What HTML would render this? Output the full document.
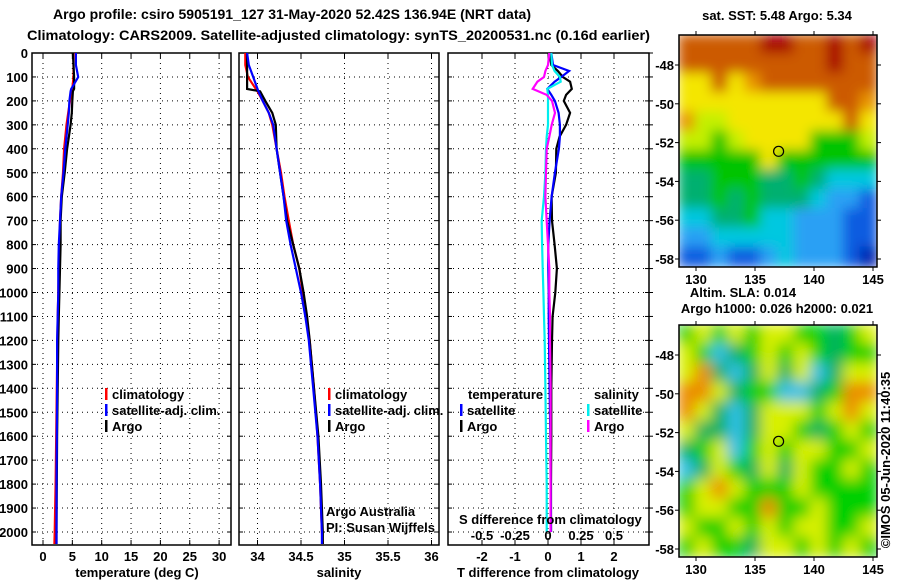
<!DOCTYPE html>
<html><head><meta charset="utf-8">
<style>
html,body{margin:0;padding:0;background:#fff;}
svg{display:block;font-family:"Liberation Sans",sans-serif;}
.b{font-weight:bold;font-size:13px;}
</style></head>
<body>
<svg id="fig" width="900" height="580" viewBox="0 0 900 580" xmlns="http://www.w3.org/2000/svg">
<defs><filter id="blur1" x="0" y="0" width="1" height="1"><feGaussianBlur stdDeviation="6"/></filter>
<filter id="blur2" x="0" y="0" width="1" height="1"><feGaussianBlur stdDeviation="7"/></filter>
<clipPath id="cm1"><rect x="679" y="35" width="198" height="232"/></clipPath>
<clipPath id="cm2"><rect x="679" y="325" width="198" height="232"/></clipPath></defs>
<text x="53" y="19" class="b" style="font-size:14px" textLength="478" lengthAdjust="spacingAndGlyphs">Argo profile: csiro 5905191_127 31-May-2020 52.42S 136.94E (NRT data)</text>
<text x="27" y="40" class="b" style="font-size:14px" textLength="623" lengthAdjust="spacingAndGlyphs">Climatology: CARS2009. Satellite-adjusted climatology: synTS_20200531.nc (0.16d earlier)</text>
<g id="plots"></g>
</svg>
<script>
// ---- data ----
const depths = [0,50,100,150,160,200,250,300,400,500,600,700,800,900,1000,1100,1200,1400,1600,1800,2000,2050];
const climT = [5.2,5.2,5.2,5.0,4.9,4.6,4.3,4.0,3.6,3.4,3.1,2.9,2.8,2.7,2.6,2.5,2.45,2.35,2.25,2.15,2.0,1.95];
const satT  = [5.6,5.6,6.0,4.8,4.7,4.5,4.4,4.2,3.8,3.5,3.1,2.9,2.7,2.6,2.6,2.5,2.4,2.4,2.35,2.3,2.3,2.3];
const argoT = [5.1,5.2,5.3,5.3,5.1,5.0,4.9,4.7,4.1,3.7,3.2,3.0,3.0,2.9,2.8,2.7,2.6,2.5,2.4,2.35,2.3,2.3];
const climS = [33.86,33.86,33.89,33.98,34.0,34.06,34.13,34.17,34.22,34.27,34.31,34.36,34.41,34.48,34.52,34.56,34.60,34.65,34.69,34.72,34.74,34.75];
const satS  = [33.88,33.90,33.95,34.0,34.01,34.06,34.13,34.18,34.22,34.26,34.30,34.33,34.38,34.44,34.50,34.55,34.59,34.64,34.69,34.72,34.74,34.74];
const argoS = [33.88,33.88,33.88,33.88,34.03,34.09,34.17,34.21,34.22,34.26,34.30,34.34,34.41,34.48,34.53,34.57,34.60,34.65,34.70,34.73,34.75,34.75];
const diffDepths = [0,50,75,100,120,150,175,200,250,300,350,400,500,600,700,800,900,1000,1100,1200,1400,1600,1800,2000];
const dTargo = [0.05,0.1,0.3,0.45,0.67,0.72,0.55,0.48,0.67,0.55,0.35,0.25,0.24,0.11,0.12,0.2,0.27,0.22,0.14,0.12,0.1,0.1,0.09,0.09];
const dTsat  = [0.1,0.15,0.64,0.4,0.2,-0.02,0.1,0.21,0.32,0.36,0.36,0.33,0.21,0.11,0.05,0.01,0.01,0.02,0.02,0.03,0.05,0.07,0.08,0.09];
const dSsat  = [0.025,0.03,0.05,0.09,0.096,-0.005,0,0,0,0,-0.01,-0.015,-0.02,-0.03,-0.048,-0.045,-0.04,-0.035,-0.03,-0.025,-0.02,-0.015,-0.01,-0.01];
const dSargo = [0.01,0,-0.02,-0.03,-0.08,-0.116,-0.01,0.03,0.053,0.028,0.01,-0.01,-0.015,-0.02,-0.01,0,0.01,0.01,0.015,0.015,0.02,0.02,0.02,0.02];
const depthTicks = [0,100,200,300,400,500,600,700,800,900,1000,1100,1200,1300,1400,1500,1600,1700,1800,1900,2000];
const tempTicks = [0,5,10,15,20,25,30];
const salTicks = [34,34.5,35,35.5,36];
const dTTicks = [-2,-1,0,1,2];
const dSTicks = [-0.5,-0.25,0,0.25,0.5];
const latTicks = [-48,-50,-52,-54,-56,-58];
const lonTicks = [130,135,140,145];
const sstGrid = ["OOOOORROOROR","OOOOOOOOOROO","YYOYoOOOOOOO","YYYYYYYYYOOo","oyyYYYYYYYOY","yyGyYYYYGGGy","GGGGGYGGGGGG","ggGGGggGgCCC","ggGgGgggCBBD","CCggGCCBBBDD","BBCCCCCBBBDD","DDBDDBCBBBDN"];
const slaGrid = ["GyGyGyyGGgGy","yGCgGyGyGgGG","yOgCgygyCgyy","OOygGGCCgGOO","OygCgyyyGyOy","yggCgyyGgGyG","gGyCGyGyyGGy","CgyGgygyGGyG","GyOyGGGyGGGG","GyyGGOGGyGGG","yGGyGyGyyGGy","GyGGgyyGyGyG"];

// ---- helpers ----
const NS="http://www.w3.org/2000/svg";
const root=document.getElementById('plots');
function mk(tag,attrs,parent){const e=document.createElementNS(NS,tag);for(const k in attrs)e.setAttribute(k,attrs[k]);(parent||root).appendChild(e);return e;}
const y0=53, yB=545;
const yD=d=>53+d*0.2395;
function txt(x,y,s,anchor,cls,name,extra){const t=mk('text',Object.assign({x:x,y:y,'text-anchor':anchor||'start','class':cls||'b'},extra||{}));t.textContent=s;


return t;}

const panels=[
 {x1:32,x2:231,name:'temperature',sx:v=>43+v*5.87},
 {x1:239,x2:439,name:'salinity',sx:v=>257.5+(v-34)*87},
 {x1:448,x2:649,name:'difference',sx:v=>548+v*33}
];
panels.forEach((p,i)=>{
  const g=mk('g',{});
  
  
  depthTicks.forEach(d=>{if(d>0){const l=mk('line',{x1:p.x1,x2:p.x2,y1:yD(d),y2:yD(d),stroke:'#000','stroke-dasharray':'1,4'},g);
    
    }
    mk('line',{x1:p.x1,x2:p.x1+4,y1:yD(d),y2:yD(d),stroke:'#000'},g);
    mk('line',{x1:p.x2,x2:p.x2-4,y1:yD(d),y2:yD(d),stroke:'#000'},g);
    if(i==2) mk('line',{x1:p.x2,x2:p.x2+4,y1:yD(d),y2:yD(d),stroke:'#000'},g);
  });
  const xt = i==0?tempTicks:i==1?salTicks:dTTicks;
  xt.forEach(v=>{const x=p.sx(v);
    const l=mk('line',{x1:x,x2:x,y1:y0,y2:yB,stroke:'#000','stroke-dasharray':'1,4'},g);
    
    
    mk('line',{x1:x,x2:x,y1:y0,y2:y0+5,stroke:'#000'},g);
    mk('line',{x1:x,x2:x,y1:yB,y2:yB-5,stroke:'#000'},g);
    txt(x,561,String(v),'middle','b','x-tick-label');
  });
  const r=mk('rect',{x:p.x1,y:y0,width:p.x2-p.x1,height:yB-y0,fill:'none',stroke:'#000','stroke-width':1.5},g);
  
  
});
depthTicks.forEach(d=>txt(28,yD(d)+5,String(d),'end','b','depth-tick-label'));
txt(137,577,'temperature (deg C)','middle','b','temperature-axis-title');
txt(339,577,'salinity','middle','b','salinity-axis-title');
txt(548,577,'T difference from climatology','middle','b','t-difference-axis-title');

function line(ds,vals,sx,color,name){
  const pts=ds.map((d,i)=>sx(vals[i]).toFixed(1)+','+yD(d).toFixed(1)).join(' ');
  const l=mk('polyline',{points:pts,fill:'none',stroke:color,'stroke-width':2.2,'stroke-linejoin':'miter'});
  
  
}
const sT=panels[0].sx, sS=panels[1].sx, sD=panels[2].sx, sDS=v=>548+v*132;
line(depths,climT,sT,'#f00','temperature-climatology-line');
line(depths,argoT,sT,'#000','temperature-argo-line');
line(depths,satT,sT,'#00f','temperature-satellite-line');
line(depths,climS,sS,'#f00','salinity-climatology-line');
line(depths,argoS,sS,'#000','salinity-argo-line');
line(depths,satS,sS,'#00f','salinity-satellite-line');
line(diffDepths,dTargo,sD,'#000','t-diff-argo-line');
line(diffDepths,dTsat,sD,'#00f','t-diff-satellite-line');
line(diffDepths,dSsat,sDS,'#0ee','s-diff-satellite-line');
line(diffDepths,dSargo,sDS,'#f0f','s-diff-argo-line');

function leg(x,y,c,s,name){const r=mk('rect',{x:x,y:y-11,width:2.5,height:12,fill:c});
  
  
  txt(x+7,y,s,'start','b',name);}
leg(105,399,'#f00','climatology','legend-climatology');
leg(105,415,'#00f','satellite-adj. clim.','legend-satellite-adj');
leg(105,431,'#000','Argo','legend-argo');
leg(328,399,'#f00','climatology','legend-climatology-2');
leg(328,415,'#00f','satellite-adj. clim.','legend-satellite-adj-2');
leg(328,431,'#000','Argo','legend-argo-2');
txt(468,399,'temperature','start','b','legend-temperature-heading');
txt(594,399,'salinity','start','b','legend-salinity-heading');
leg(460,415,'#00f','satellite','legend-t-satellite');
leg(460,431,'#000','Argo','legend-t-argo');
leg(587,415,'#0ee','satellite','legend-s-satellite');
leg(587,431,'#f0f','Argo','legend-s-argo');
txt(326,516,'Argo Australia','start','','credit-argo-australia',{'font-size':'12'});
txt(326,532,'PI: Susan Wijffels','start','','credit-pi',{'font-size':'12'});
txt(459,524,'S difference from climatology','start','b','s-difference-axis-title');
dSTicks.forEach(v=>txt(sDS(v),540,String(v),'middle','b','s-tick-label'));

// ---- maps ----
const pal1={R:'#a80000',O:'#cc5a00',o:'#e89400',Y:'#f4e600',y:'#c4f000',G:'#00c400',g:'#00b070',C:'#00c8e0',B:'#2aa0f4',D:'#0a5ce0',N:'#0020b0'};
const pal2={O:'#ec8a00',y:'#d8f000',G:'#00d000',g:'#00b060',C:'#30c0e8'};
const lonX=v=>696+(v-130)*11.8;
function map(top,grid,pal,filt,name){
  const g=mk('g',{'clip-path':'url(#cm'+(top<100?1:2)+')'});
  
  
  const inner=mk('g',{filter:'url(#'+filt+')'},g);
  const cw=198/12, ch=232/12;
  grid.forEach((row,r)=>row.split('').forEach((k,c)=>{
    const cell=mk('rect',{x:(679+c*cw-1).toFixed(1),y:(top+r*ch-1).toFixed(1),width:(cw+2).toFixed(1),height:(ch+2).toFixed(1),fill:pal[k]||'#00c000'},inner);
    
    
  }));
  const latY=v=>top+30+(-48-v)*19.4;
  const fr=mk('rect',{x:679,y:top,width:198,height:232,fill:'none',stroke:'#000','stroke-width':1.5});
  
  
  latTicks.forEach(v=>{const y=latY(v);mk('line',{x1:675,x2:679,y1:y,y2:y,stroke:'#000'});mk('line',{x1:877,x2:881,y1:y,y2:y,stroke:'#000'});
    txt(674,y+5,String(v),'end','b','latitude-tick-label');});
  lonTicks.forEach(v=>{const x=lonX(v);mk('line',{x1:x,x2:x,y1:top-4,y2:top,stroke:'#000'});mk('line',{x1:x,x2:x,y1:top+232,y2:top+236,stroke:'#000'});
    txt(x,top+249,String(v),'middle','b','longitude-tick-label');});
  const ci=mk('circle',{cx:lonX(137),cy:latY(-52.45),r:5,fill:'none',stroke:'#000','stroke-width':1.2});
  
  
}
map(35,sstGrid,pal1,'blur1','sst-map');
map(325,slaGrid,pal2,'blur2','sla-map');
txt(777,20,'sat. SST: 5.48 Argo: 5.34','middle','b','sst-map-title');
txt(743,297,'Altim. SLA: 0.014','middle','b','sla-label');
txt(777,313,'Argo h1000: 0.026 h2000: 0.021','middle','b','sla-map-title');
txt(0,0,'\u00a9IMOS 05-Jun-2020 11:40:35','middle','','timestamp',{'font-size':'13','transform':'translate(890,460) rotate(-90)'});
</script>
</body></html>
